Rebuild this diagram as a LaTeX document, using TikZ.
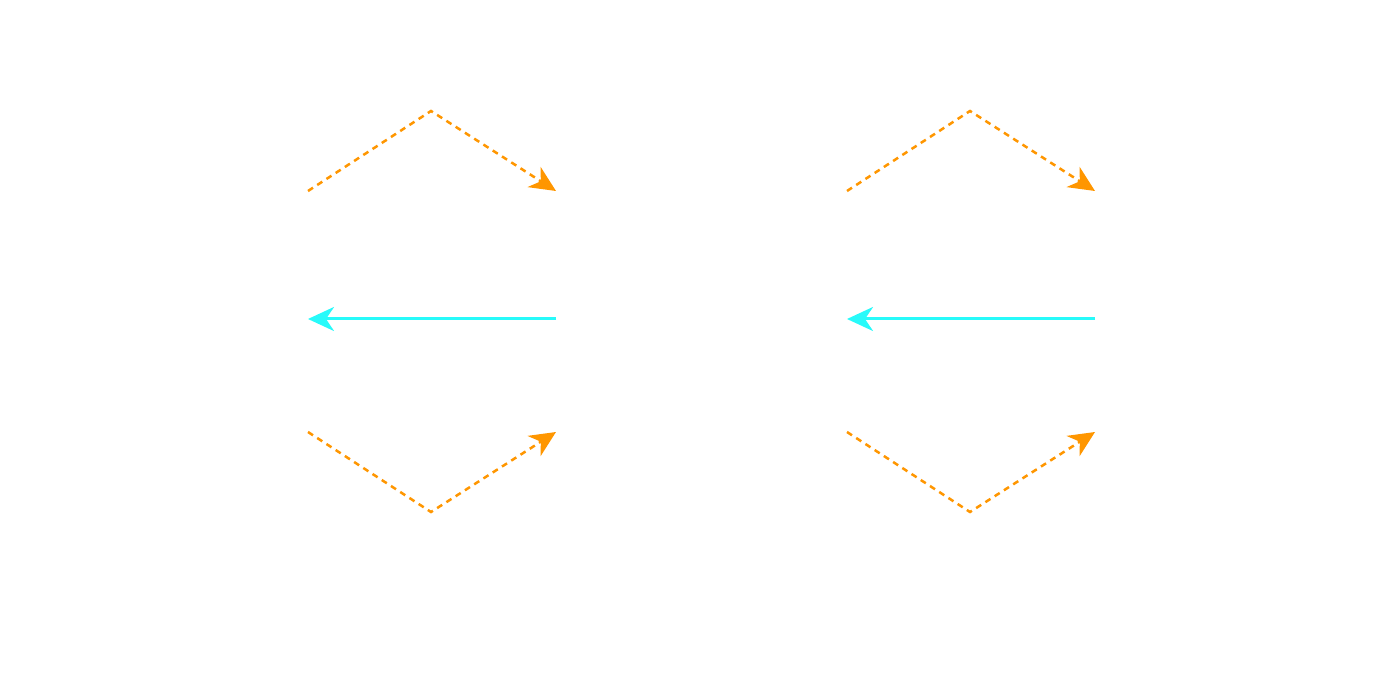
\documentclass[tikz,border=0pt]{standalone}
\usetikzlibrary{arrows.meta}
\definecolor{orng}{RGB}{255,150,0}
\definecolor{cyn}{RGB}{40,250,250}
\tikzset{
  flow/.style={draw=orng, line width=2.5pt, dash pattern=on 6pt off 5pt, -{Stealth[length=26pt,width=24pt,inset=8pt]}, line join=miter},
  back/.style={draw=cyn, line width=3pt, -{Stealth[length=26pt,width=24pt,inset=8pt]}},
}
\begin{document}
\begin{tikzpicture}[x=1pt,y=-1pt]
\useasboundingbox (0,0) rectangle (1400,700);
\foreach \dx/\n in {0/L,539/R}{
  \begin{scope}[xshift=\dx pt]
  \coordinate (\n a) at (308,191);
  \coordinate (\n b) at (431,111);
  \coordinate (\n c) at (556,191);
  \coordinate (\n d) at (556,319);
  \coordinate (\n e) at (308,319);
  \coordinate (\n f) at (308,432);
  \coordinate (\n g) at (431,512);
  \coordinate (\n h) at (556,432);
  \end{scope}
  \draw[flow] (\n a) -- (\n b) -- (\n c);
  \draw[back] (\n d) -- (\n e);
  \draw[flow] (\n f) -- (\n g) -- (\n h);
}
\end{tikzpicture}
\end{document}
